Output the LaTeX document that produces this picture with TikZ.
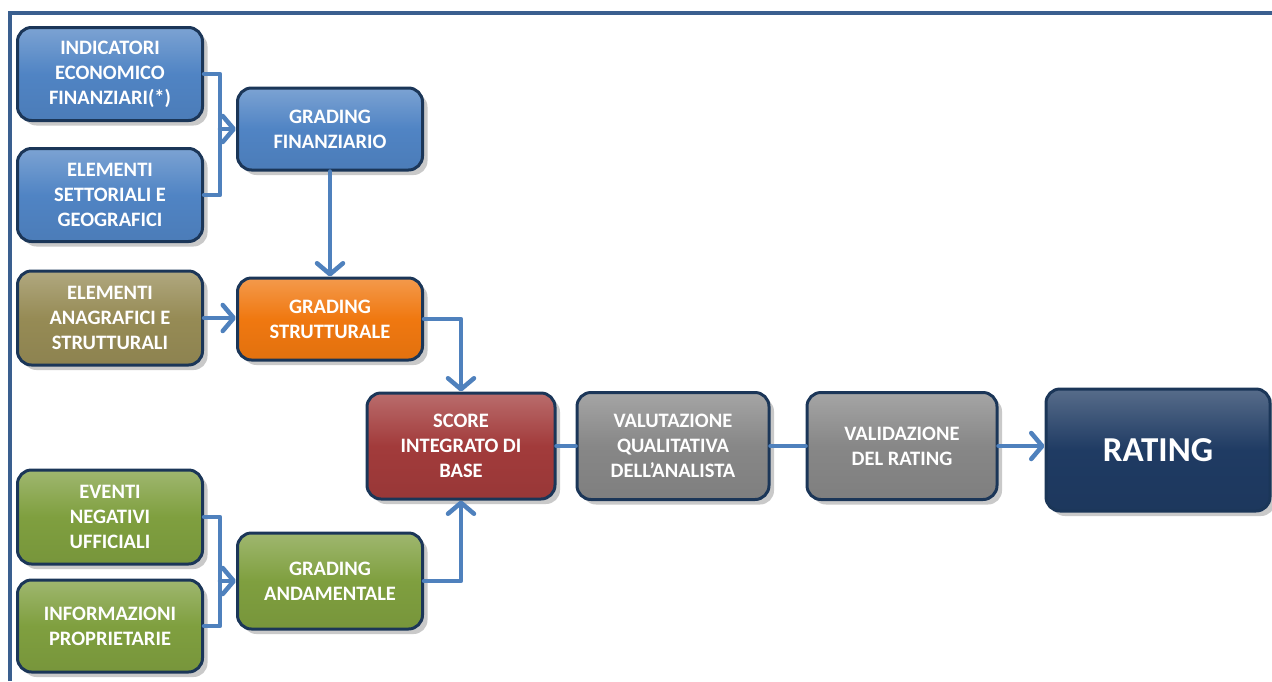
\documentclass[tikz,border=0pt]{standalone}
\usepackage{fontspec}
\setmainfont{Carlito}
\usetikzlibrary{arrows.meta,shadows}
\definecolor{cblue}{HTML}{5084C4}
\definecolor{colive}{HTML}{968B55}
\definecolor{corange}{HTML}{F07810}
\definecolor{cred}{HTML}{A23B3B}
\definecolor{cgreen}{HTML}{7F9F3F}
\definecolor{cgrey}{HTML}{878787}
\definecolor{cnavy}{HTML}{1F3B63}
\definecolor{cborder}{HTML}{1B3658}
\definecolor{cframe}{HTML}{3A5F8F}
\definecolor{carrow}{HTML}{4F81BD}
\tikzset{
  box/.style={rectangle, rounded corners=14pt, draw=cborder, line width=3pt,
    text=white, align=center, font=\fontsize{20.5}{25}\selectfont\bfseries,
    inner sep=2pt,
    drop shadow={shadow xshift=5pt, shadow yshift=-5pt, fill=black!35, opacity=0.6}},
  fillc/.style={top color=#1!75!white, bottom color=#1!94!black, middle color=#1},
  conn/.style={draw=carrow, line width=4.5pt, line cap=round, line join=round},
  arr/.style={conn, -{Straight Barb[length=11pt,width=26pt,line cap=round,line join=round]}},
}
\begin{document}
\begin{tikzpicture}[x=1pt,y=-1pt]
\useasboundingbox (0,0) rectangle (1272,681);
\fill[white] (0,0) rectangle (1272,681);
\draw[cframe, line width=4.5pt] (10,681) -- (10,13) -- (1272,13);

\node[box, fillc=cblue, minimum width=185pt, minimum height=93pt] (ind) at (110,74) {INDICATORI\\ECONOMICO\\FINANZIARI(*)};
\node[box, fillc=cblue, minimum width=185pt, minimum height=93pt] (set) at (110,195) {ELEMENTI\\SETTORIALI E\\GEOGRAFICI};
\node[box, fillc=cblue, minimum width=185pt, minimum height=82pt] (gf) at (330,129) {GRADING\\FINANZIARIO};
\node[box, fillc=colive, minimum width=185pt, minimum height=94pt] (ana) at (110,318) {ELEMENTI\\ANAGRAFICI E\\STRUTTURALI};
\node[box, fillc=corange, minimum width=185pt, minimum height=82pt] (gs) at (330,319) {GRADING\\STRUTTURALE};
\node[box, fillc=cred, minimum width=188pt, minimum height=106pt] (sc) at (461,446) {SCORE\\INTEGRATO DI\\BASE};
\node[box, fillc=cgrey, minimum width=192pt, minimum height=107pt] (val) at (673,446) {VALUTAZIONE\\QUALITATIVA\\DELL’ANALISTA};
\node[box, fillc=cgrey, minimum width=190pt, minimum height=107pt] (vd) at (902,446) {VALIDAZIONE\\DEL RATING};
\node[box, fillc=cnavy, minimum width=224pt, minimum height=122pt, font=\fontsize{35}{40}\selectfont\bfseries] (rt) at (1158,450) {RATING};
\node[box, fillc=cgreen, minimum width=185pt, minimum height=94pt] (ev) at (110,517) {EVENTI\\NEGATIVI\\UFFICIALI};
\node[box, fillc=cgreen, minimum width=185pt, minimum height=92pt] (inf) at (110,626) {INFORMAZIONI\\PROPRIETARIE};
\node[box, fillc=cgreen, minimum width=185pt, minimum height=96pt] (ga) at (330,581) {GRADING\\ANDAMENTALE};

\coordinate (j1) at (220,129);
\coordinate (j2) at (220,581);
\draw[conn] (ind.east) -- (ind.east -| j1) -- (j1);
\draw[conn] (set.east) -- (set.east -| j1) -- (j1);
\draw[arr] (j1) -- (gf.west);
\draw[arr] (gf.south) -- (gs.north);
\draw[arr] (ana.east) -- (ana.east -| gs.west);
\draw[arr] (gs.east) -| (sc.north);
\draw[arr] (ga.east) -| (sc.south);
\draw[conn] (ev.east) -- (ev.east -| j2) -- (j2);
\draw[conn] (inf.east) -- (inf.east -| j2) -- (j2);
\draw[arr] (j2) -- (ga.west);
\draw[conn] (sc.east) -- (val.west);
\draw[conn] (val.east) -- (vd.west);
\draw[arr] (vd.east) -- (vd.east -| rt.west);
\end{tikzpicture}
\end{document}
